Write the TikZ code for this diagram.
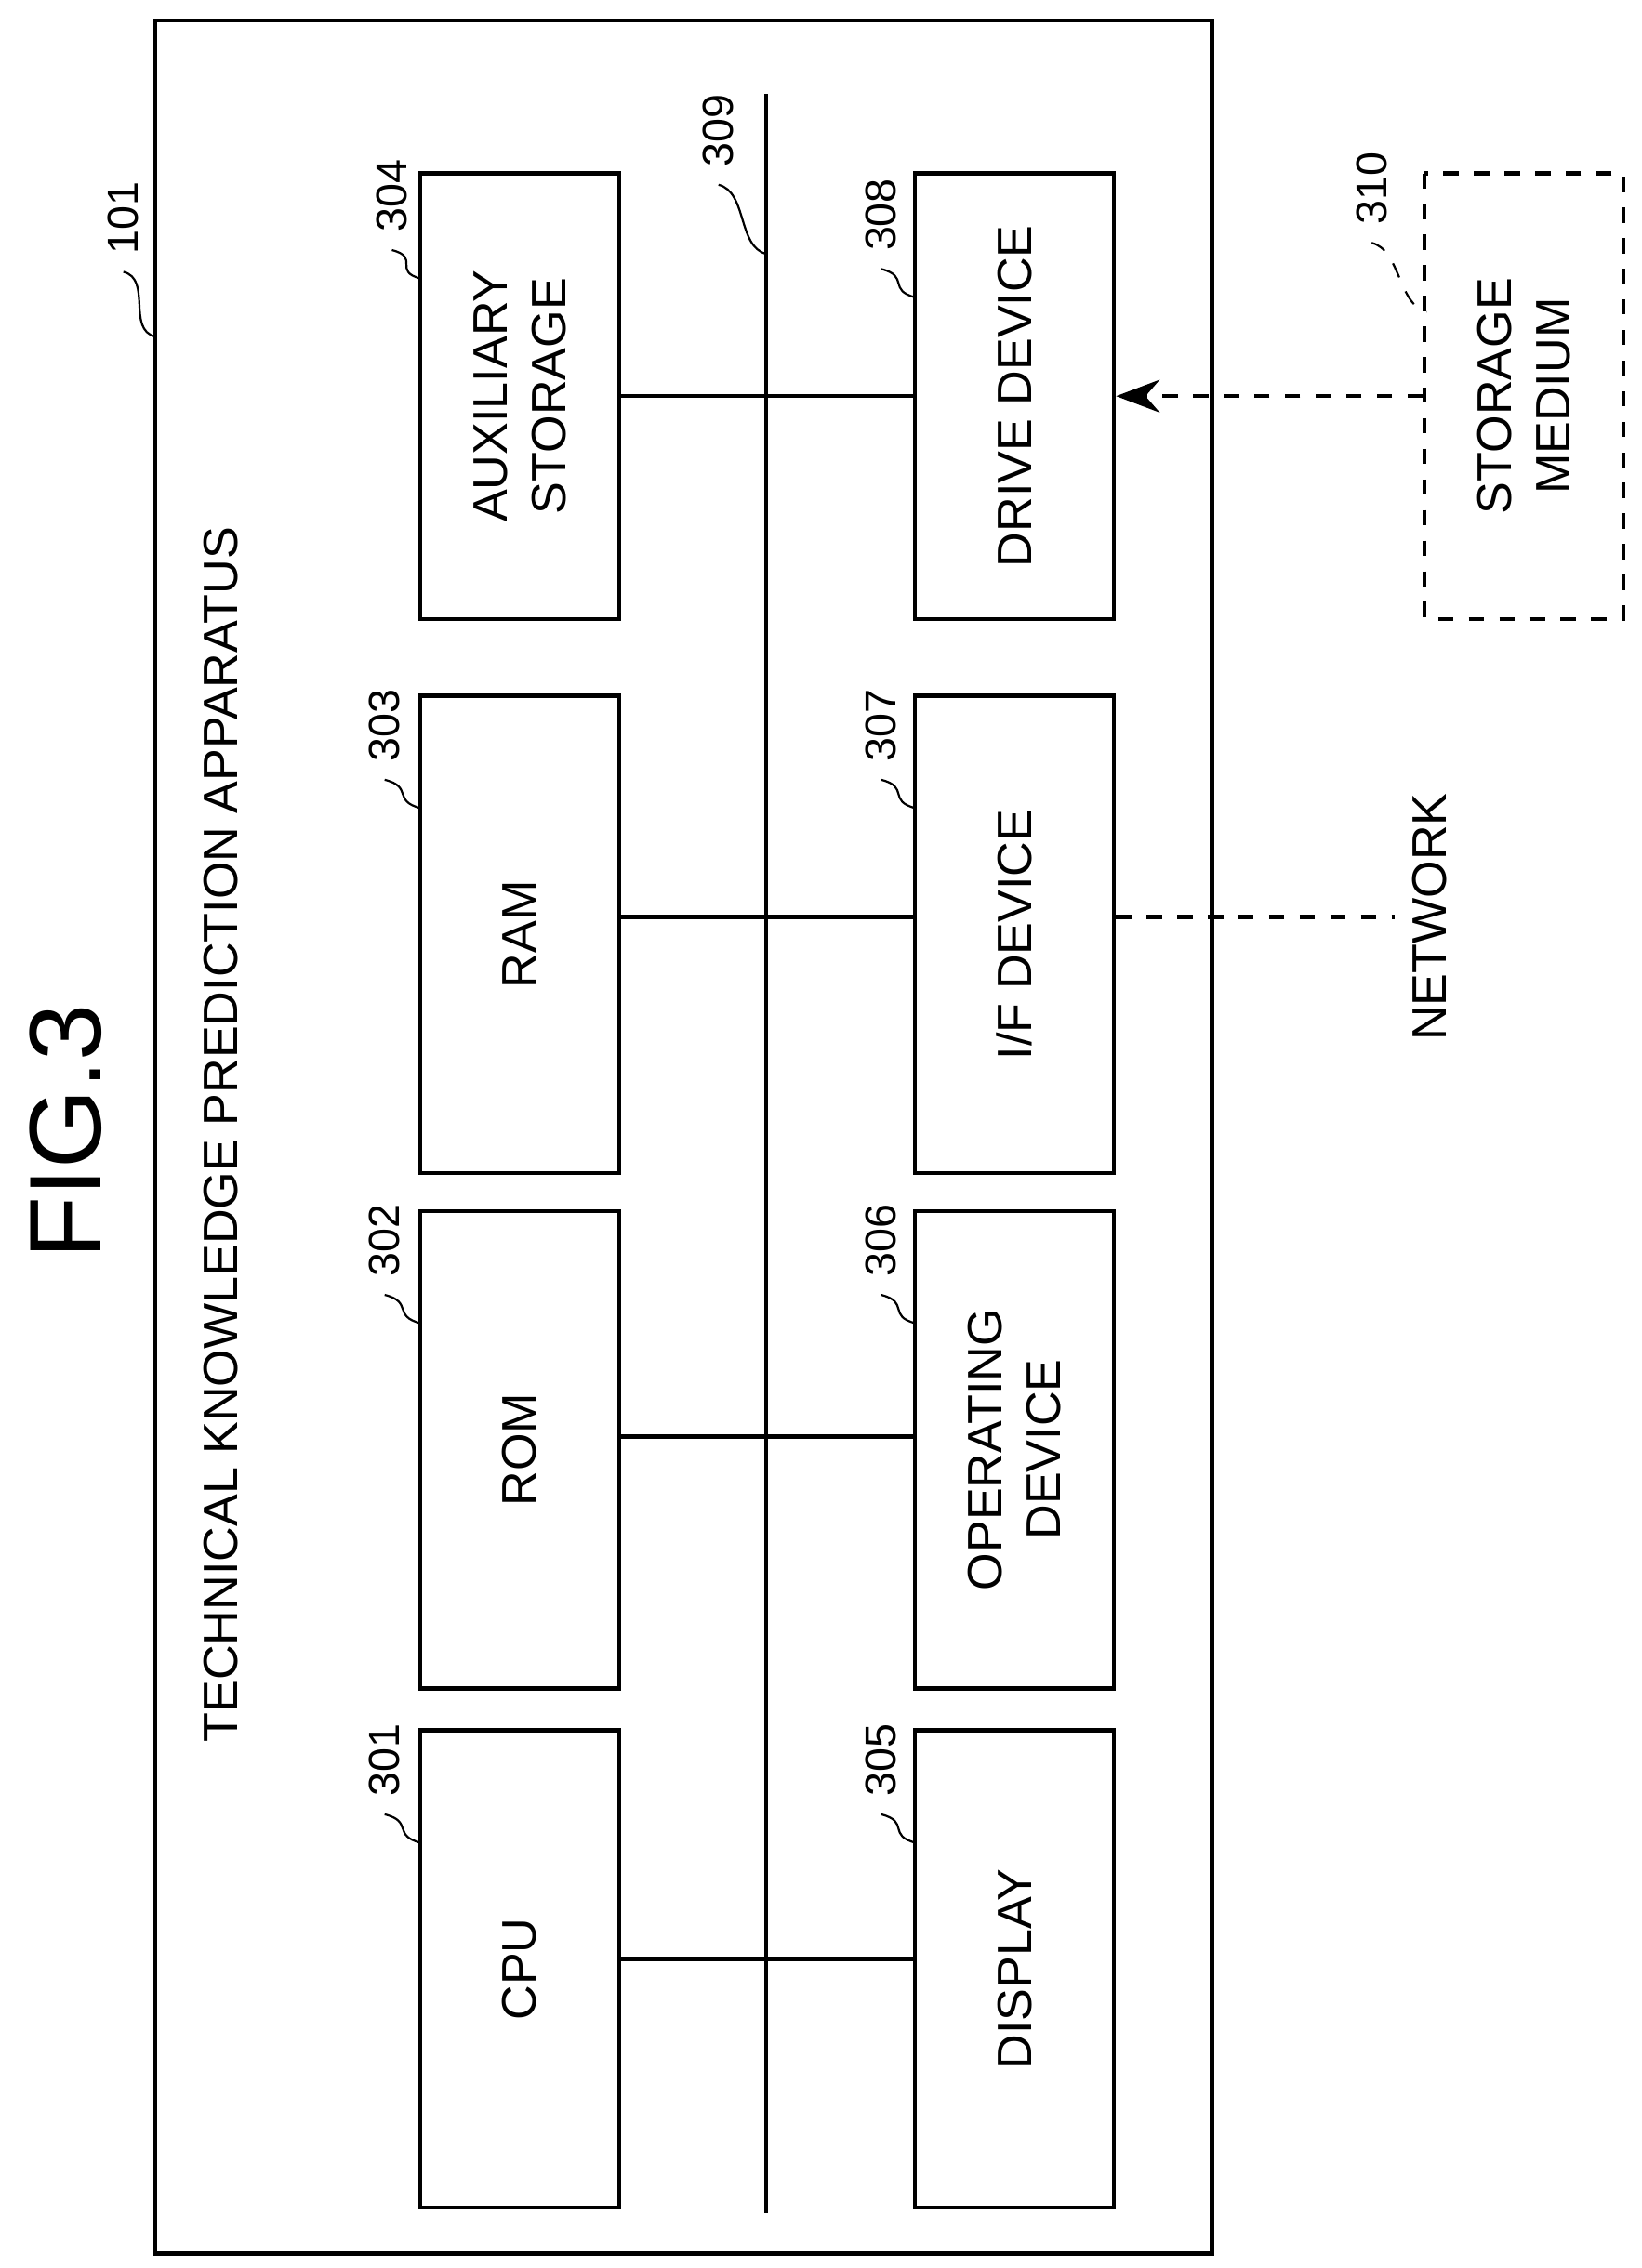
\documentclass[tikz,border=0pt]{standalone}
\usepackage{fontspec}
\setmainfont{Liberation Sans}
\usetikzlibrary{positioning,arrows.meta}
\tikzset{
  unit/.style={draw,thick,rotate=90,minimum height=13.7mm,align=center,font=\fontsize{9.5}{11.5}\selectfont},
  reflabel/.style={rotate=90,font=\fontsize{8.5}{10}\selectfont},
  lead/.style={thin},
}
\begin{document}
\begin{tikzpicture}[x=0.1mm,y=-0.1mm]
\useasboundingbox (0,0) rectangle (1131,1563);

% outer frame
\draw[thick] (107,14) rectangle (835,1553);
\node[rotate=90,font=\fontsize{20}{24}\selectfont] (fig) at (45,780) {FIG.3};
\node[rotate=90,font=\fontsize{9.5}{11}\selectfont] (title) at (152,782) {TECHNICAL KNOWLEDGE PREDICTION APPARATUS};

% bus
\coordinate (bustop) at (528,65);
\coordinate (busbot) at (528,1525);
\draw[thick] (bustop) -- (busbot);

% left column
\node[unit,minimum width=32.9mm] (cpu) at (358,1357) {CPU};
\node[unit,minimum width=32.9mm] (rom) at (358,999) {ROM};
\node[unit,minimum width=32.9mm] (ram) at (358,644) {RAM};
\node[unit,minimum width=30.7mm] (aux) at (358,273) {AUXILIARY\\STORAGE};

% right column
\node[unit,minimum width=32.9mm] (disp) at (699,1357) {DISPLAY};
\node[unit,minimum width=32.9mm] (oper) at (699,999) {OPERATING\\DEVICE};
\node[unit,minimum width=32.9mm] (ifd) at (699,644) {I/F DEVICE};
\node[unit,minimum width=30.7mm] (drive) at (699,273) {DRIVE DEVICE};

% external
\node[unit,dashed,minimum width=30.7mm] (medium) at (1050,273) {STORAGE\\MEDIUM};
\node[rotate=90,font=\fontsize{9.5}{11.5}\selectfont] (net) at (985,632) {NETWORK};

% connections
\draw[thick] (cpu.south |- 0,1350) -- (disp.north |- 0,1350);
\draw[thick] (rom.south |- 0,990) -- (oper.north |- 0,990);
\draw[thick] (ram.south |- 0,632) -- (ifd.north |- 0,632);
\draw[thick] (aux.south |- 0,273) -- (drive.north |- 0,273);
\draw[thick,dashed,-{Stealth[length=3mm]}] (medium.north) -- (drive.south);
\draw[thick,dashed] (ifd.south |- 0,632) -- (net.north |- 0,632);

% reference numerals
\node[reflabel] (l301) at (265,1213) {301};
\node[reflabel] (l302) at (265,855) {302};
\node[reflabel] (l303) at (265,500) {303};
\node[reflabel] (l304) at (270,135) {304};
\node[reflabel] (l305) at (607,1213) {305};
\node[reflabel] (l306) at (607,855) {306};
\node[reflabel] (l307) at (607,500) {307};
\node[reflabel] (l308) at (607,148) {308};
\node[reflabel] (l309) at (495,90) {309};
\node[reflabel] (l101) at (85,150) {101};
\node[reflabel] (l310) at (945,130) {310};

\foreach \l/\x/\y in {l301/290/1270,l302/290/912,l303/290/557,l304/290/192,
                      l305/631/1270,l306/631/912,l307/631/557,l308/631/205,
                      l309/528/175,l101/107/232}
  \draw[lead] (\l.west) .. controls +(20,5) and +(-20,-5) .. (\x,\y);
\draw[lead,dashed] (l310.west) .. controls +(20,5) and +(-20,-5) .. (983,215);
\end{tikzpicture}
\end{document}
